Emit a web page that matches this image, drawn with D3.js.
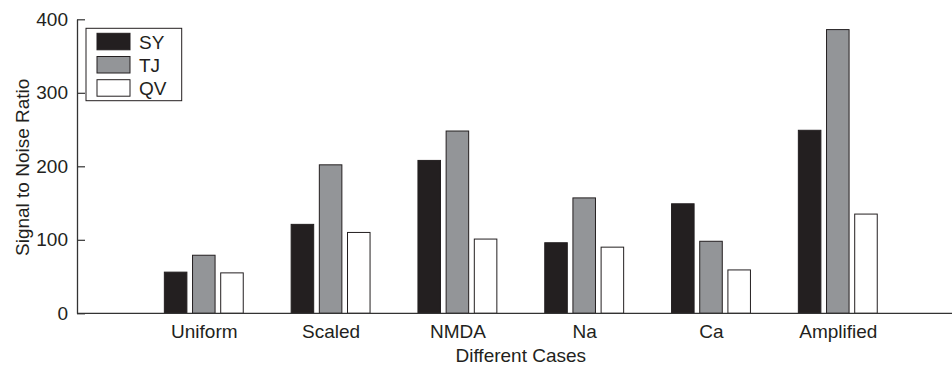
<!DOCTYPE html>
<html>
<head>
<meta charset="utf-8">
<script src="https://cdn.jsdelivr.net/npm/d3@7/dist/d3.min.js"></script>
<style>
  html, body { margin: 0; padding: 0; background: #fff; }
  svg { display: block; font-family: "Liberation Sans", Arial, Helvetica, sans-serif; }
</style>
</head>
<body>
<svg id="chart" width="952" height="365"></svg>
<script>
// Signal-to-noise ratio per case, three groups
const categories = ["Uniform", "Scaled", "NMDA", "Na", "Ca", "Amplified"];
const seriesNames = ["SY", "TJ", "QV"];
const valuesSY = [56, 121, 208, 96, 149, 249];
const valuesTJ = [79, 202, 248, 157, 98, 386];
const valuesQV = [55, 110, 101, 90, 59, 135];
const yTicks = [0, 100, 200, 300, 400];

const seriesValues = [valuesSY, valuesTJ, valuesQV];
const fills = ["#231f20", "#939598", "#ffffff"];
const edge = "#231f20";

const svg = d3.select("#chart");

// Axis extents: categories sit at 1..6 on a 0..7 range
const x = d3.scaleLinear().domain([0, 7]).range([77, 77 + 7 * 126.8]);
const y = d3.scaleLinear().domain([0, 400]).range([313.3, 19.3]);

// Grouped bar layout: three bars per group
const groupWidth = 2 / 3;
const step = groupWidth / 3;
const barWidth = step * 0.8;

const fontSize = 19;

// Y axis (inward ticks, no box)
const yAxis = d3.axisLeft(y).tickValues(yTicks).tickSizeInner(-8).tickSizeOuter(0).tickPadding(9);
const gy = svg.append("g").attr("transform", `translate(${x(0)},0)`).call(yAxis);
gy.select(".domain").attr("stroke", "#333").attr("stroke-width", 1.3);
gy.selectAll(".tick line").attr("stroke", "#333").attr("stroke-width", 1.2);
gy.selectAll(".tick text")
  .attr("font-size", fontSize)
  .attr("font-family", "Liberation Sans, Arial, sans-serif")
  .attr("fill", "#231f20");

// X axis ticks (inward) and category labels
const xAxis = d3.axisBottom(x).tickValues(d3.range(1, categories.length + 1))
  .tickFormat(d => categories[d - 1]).tickSizeInner(-8).tickSizeOuter(0).tickPadding(11);
const gx = svg.append("g").attr("transform", `translate(0,${y(0)})`).call(xAxis);
gx.select(".domain").remove();
gx.selectAll(".tick line").attr("stroke", "#333").attr("stroke-width", 1.2);
gx.selectAll(".tick text")
  .attr("font-size", fontSize)
  .attr("font-family", "Liberation Sans, Arial, sans-serif")
  .attr("fill", "#231f20");

// Bars
seriesValues.forEach((vals, s) => {
  const offset = (s - 1) * step;
  svg.append("g").selectAll("rect")
    .data(vals)
    .join("rect")
    .attr("x", (d, i) => x(i + 1 + offset - barWidth / 2))
    .attr("width", x(barWidth) - x(0))
    .attr("y", d => y(d))
    .attr("height", d => y(0) - y(d))
    .attr("fill", fills[s])
    .attr("stroke", edge)
    .attr("stroke-width", 1);
});

// X axis baseline drawn over bar bottoms
svg.append("line")
  .attr("x1", x(0)).attr("x2", x(7))
  .attr("y1", y(0)).attr("y2", y(0))
  .attr("stroke", "#333").attr("stroke-width", 1.3);

// Axis titles
svg.append("text")
  .attr("x", (x(0) + x(7)) / 2)
  .attr("y", 361.5)
  .attr("text-anchor", "middle")
  .attr("font-size", fontSize)
  .attr("fill", "#231f20")
  .text("Different Cases");

svg.append("text")
  .attr("transform", `translate(29,${(y(0) + y(400)) / 2 + 1}) rotate(-90)`)
  .attr("text-anchor", "middle")
  .attr("font-size", fontSize)
  .attr("fill", "#231f20")
  .text("Signal to Noise Ratio");

// Legend
const legend = svg.append("g").attr("transform", "translate(86,28.3)");
legend.append("rect")
  .attr("width", 95.7).attr("height", 72.4)
  .attr("fill", "#fff").attr("stroke", "#231f20").attr("stroke-width", 1);
seriesNames.forEach((name, s) => {
  const row = legend.append("g").attr("transform", `translate(0,${5 + s * 23.2})`);
  row.append("rect")
    .attr("x", 11).attr("y", 0)
    .attr("width", 33).attr("height", 16.5)
    .attr("fill", fills[s]).attr("stroke", edge).attr("stroke-width", 1);
  row.append("text")
    .attr("x", 53).attr("y", 15.5)
    .attr("font-size", fontSize)
    .attr("fill", "#231f20")
    .text(name);
});
</script>
</body>
</html>
